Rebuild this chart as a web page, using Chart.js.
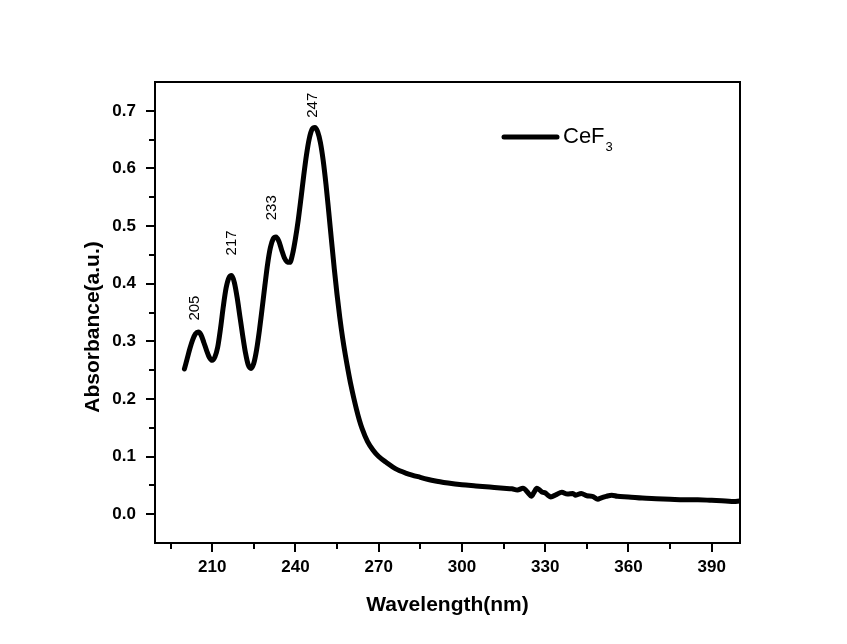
<!DOCTYPE html>
<html>
<head>
<meta charset="utf-8">
<script src="https://cdn.jsdelivr.net/npm/chart.js@4"></script>
<style>
  html, body { margin: 0; padding: 0; background: #fff; }
  canvas { display: block; }
</style>
</head>
<body>
<canvas id="chart" width="847" height="644"></canvas>
<script>
// spectrum
const wavelength = [
  200, 201, 202, 203, 204, 205, 206, 207, 208, 209, 210, 211, 212, 213, 214, 215,
  216, 217, 218, 219, 220, 221, 222, 223, 224, 225, 226, 227, 228, 229, 230, 231,
  232, 233, 234, 235, 236, 237, 238, 239, 240, 241, 242, 243, 244, 245, 246, 247,
  248, 249, 250, 251, 252, 253, 254, 255, 256, 257, 258, 259, 260, 261, 262, 263,
  264, 266, 268, 270, 273, 276, 280, 285, 290, 295, 300, 305, 310, 315, 318, 320,
  322, 324, 325, 326, 327, 328, 329, 330, 331, 332, 334, 336, 338, 340, 341, 343,
  345, 347, 349, 350, 352, 354, 356, 360, 365, 370, 375, 380, 385, 390, 395, 398, 400
];
const absorbance = [
  0.252, 0.270, 0.288, 0.303, 0.313, 0.316, 0.311, 0.298, 0.284, 0.272, 0.267, 0.273, 0.290, 0.322, 0.360, 0.392,
  0.410, 0.414, 0.402, 0.376, 0.343, 0.310, 0.280, 0.259, 0.253, 0.262, 0.285, 0.318, 0.357, 0.397, 0.435, 0.463,
  0.478, 0.481, 0.474, 0.459, 0.445, 0.438, 0.437, 0.452, 0.478, 0.510, 0.548, 0.588, 0.624, 0.652, 0.668, 0.671,
  0.664, 0.645, 0.614, 0.573, 0.525, 0.475, 0.426, 0.381, 0.341, 0.306, 0.276, 0.249, 0.224, 0.202, 0.182, 0.164,
  0.149, 0.126, 0.111, 0.100, 0.089, 0.079, 0.071, 0.064, 0.058, 0.054, 0.051, 0.049, 0.047, 0.045, 0.044, 0.042,
  0.045, 0.036, 0.031, 0.038, 0.045, 0.042, 0.038, 0.037, 0.033, 0.030, 0.034, 0.038, 0.035, 0.036, 0.033, 0.036,
  0.032, 0.031, 0.026, 0.028, 0.031, 0.033, 0.031, 0.030, 0.028, 0.027, 0.026, 0.025, 0.025, 0.024, 0.023, 0.022, 0.023
];

// axis ticks
const xTickValues = [210, 240, 270, 300, 330, 360, 390];
const xMinorTicks = [195, 225, 255, 285, 315, 345, 375];
const yTickValues = [0, 0.1, 0.2, 0.3, 0.4, 0.5, 0.6, 0.7];
const yMinorTicks = [0.05, 0.15, 0.25, 0.35, 0.45, 0.55, 0.65];

// peak annotations (text, wavelength, absorbance at text start)
const peakNames = ['205', '217', '233', '247'];
const peakLabelX = [203.8, 217, 231.4, 246.4];
const peakLabelY = [0.336, 0.449, 0.51, 0.688];

const seriesName = 'CeF';
const seriesSub = '3';

const points = wavelength.map((w, i) => ({ x: w, y: absorbance[i] }));

// frame, minor ticks, peak labels, legend and y title
const extras = {
  id: 'extras',
  afterDraw(chart) {
    const ctx = chart.ctx;
    const ca = chart.chartArea;
    const xs = chart.scales.x;
    const ys = chart.scales.y;
    ctx.save();
    ctx.strokeStyle = '#000';
    ctx.lineWidth = 2;
    ctx.strokeRect(ca.left, ca.top, ca.right - ca.left, ca.bottom - ca.top);

    ctx.beginPath();
    xMinorTicks.forEach(v => {
      const px = Math.round(xs.getPixelForValue(v));
      ctx.moveTo(px, ca.bottom);
      ctx.lineTo(px, ca.bottom + 6);
    });
    yMinorTicks.forEach(v => {
      const py = Math.round(ys.getPixelForValue(v));
      ctx.moveTo(ca.left, py);
      ctx.lineTo(ca.left - 6, py);
    });
    ctx.stroke();

    ctx.fillStyle = '#000';
    ctx.font = '15px "Liberation Sans", Arial, sans-serif';
    ctx.textAlign = 'left';
    ctx.textBaseline = 'middle';
    peakNames.forEach((t, i) => {
      ctx.save();
      ctx.translate(xs.getPixelForValue(peakLabelX[i]), ys.getPixelForValue(peakLabelY[i]));
      ctx.rotate(-Math.PI / 2);
      ctx.fillText(t, 0, 0);
      ctx.restore();
    });

    // legend
    const lx = ca.left + 349, ly = ca.top + 55;
    ctx.lineWidth = 5;
    ctx.lineCap = 'round';
    ctx.beginPath();
    ctx.moveTo(lx, ly);
    ctx.lineTo(lx + 53, ly);
    ctx.stroke();
    ctx.font = '22px "Liberation Sans", Arial, sans-serif';
    ctx.fillText(seriesName, lx + 59, ly);
    const w = ctx.measureText(seriesName).width;
    ctx.font = '13px "Liberation Sans", Arial, sans-serif';
    ctx.fillText(seriesSub, lx + 60 + w, ly + 10);

    // y title
    ctx.font = 'bold 21px "Liberation Sans", Arial, sans-serif';
    ctx.textAlign = 'center';
    ctx.translate(93, 327);
    ctx.rotate(-Math.PI / 2);
    ctx.fillText('Absorbance(a.u.)', 0, 0);
    ctx.restore();
  }
};

const tickFont = { family: '"Liberation Sans", Arial, sans-serif', size: 17, weight: 'bold' };

new Chart(document.getElementById('chart'), {
  type: 'line',
  data: {
    datasets: [{
      label: seriesName + seriesSub,
      data: points,
      borderColor: '#000',
      borderWidth: 5,
      pointRadius: 0,
      cubicInterpolationMode: 'monotone',
      borderJoinStyle: 'round',
      borderCapStyle: 'round',
      fill: false
    }]
  },
  options: {
    responsive: false,
    animation: false,
    layout: { padding: { top: 82, right: 107, left: 0, bottom: 0 } },
    plugins: { legend: { display: false }, tooltip: { enabled: false } },
    scales: {
      x: {
        type: 'linear',
        min: 189.4,
        max: 400.2,
        afterBuildTicks: s => { s.ticks = xTickValues.map(v => ({ value: v })); },
        afterFit: s => { s.height = 101; },
        grid: { drawOnChartArea: false, drawTicks: true, tickLength: 9, color: '#000', lineWidth: 2 },
        border: { display: true, color: '#000', width: 2 },
        ticks: { color: '#000', font: tickFont, padding: 5, maxRotation: 0, callback: v => String(v) },
        title: {
          display: true,
          text: 'Wavelength(nm)',
          color: '#000',
          font: { family: '"Liberation Sans", Arial, sans-serif', size: 21, weight: 'bold' },
          padding: { top: 0, bottom: 26 }
        }
      },
      y: {
        min: -0.05,
        max: 0.75,
        afterBuildTicks: s => { s.ticks = yTickValues.map(v => ({ value: v })); },
        afterFit: s => { s.width = 155; },
        grid: { drawOnChartArea: false, drawTicks: true, tickLength: 9, color: '#000', lineWidth: 2 },
        border: { display: true, color: '#000', width: 2 },
        ticks: { color: '#000', font: tickFont, padding: 10, callback: v => v.toFixed(1) }
      }
    }
  },
  plugins: [extras]
});
</script>
</body>
</html>
